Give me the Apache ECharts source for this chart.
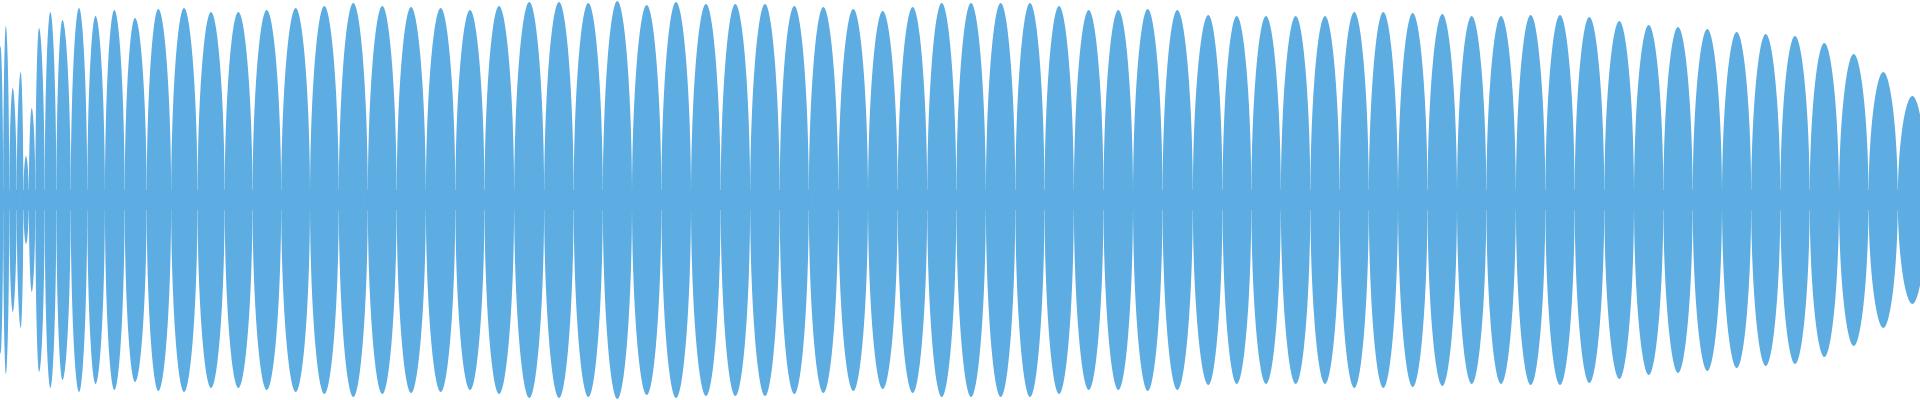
<!DOCTYPE html>
<html>
<head>
<meta charset="utf-8">
<title>waveform</title>
<script src="https://cdn.jsdelivr.net/npm/echarts@6/dist/echarts.min.js"></script>
<style>
  html, body { margin: 0; padding: 0; background: #fff; }
  #chart { width: 1920px; height: 400px; }
</style>
</head>
<body>
<div id="chart"></div>
<script>
  // lobe peak positions (x) and their envelope amplitude
  var lobeCenters = [
    0.5, 5.8, 12.7, 20.7, 26, 31.7, 39, 50.3, 62.4, 79,
    95.5, 114.3, 135, 158.3, 184, 211, 238.3, 266.7, 295.7, 324.3,
    353.3, 382.3, 411, 440.7, 470, 499, 529.3, 559, 588.3, 617.3,
    646.7, 676, 706, 735.3, 765, 794.3, 823.3, 853.3, 882.7, 912.7,
    941.7, 971, 1000.7, 1030, 1059, 1088.7, 1118.3, 1147.7, 1177.3, 1208.3,
    1236.7, 1266, 1295.7, 1325, 1354.3, 1383.3, 1412.7, 1442.3, 1471.7, 1501,
    1530.7, 1560, 1589.3, 1619.3, 1648.7, 1678, 1707.3, 1736.7, 1765.7, 1795,
    1824.3, 1853.7, 1883.3, 1912.3
  ];
  var lobeAmplitudes = [
    0.77, 0.87, 0.56, 0.64, 0.22, 0.46, 0.86, 0.94, 0.90, 0.96,
    0.92, 0.95, 0.91, 0.955, 0.96, 0.94, 0.94, 0.95, 0.96, 0.97,
    0.985, 0.97, 0.965, 0.96, 0.95, 0.97, 0.99, 0.99, 0.985, 0.995,
    0.975, 0.99, 0.98, 0.98, 0.98, 0.97, 0.965, 0.955, 0.945, 0.965,
    0.985, 0.985, 0.985, 0.985, 0.97, 0.95, 0.95, 0.955, 0.95, 0.925,
    0.92, 0.92, 0.92, 0.92, 0.94, 0.94, 0.935, 0.93, 0.92, 0.92,
    0.925, 0.925, 0.915, 0.895, 0.875, 0.865, 0.855, 0.84, 0.83, 0.82,
    0.785, 0.73, 0.64, 0.52
  ];
  // the carrier never drops below this level
  var floorLevel = 0.05;

  var xMin = 0, xMax = 1920;
  var fillColor = '#5dace2';

  // each lobe spans half way to its neighbours
  var lobes = lobeCenters.map(function (c, i) {
    var prev = i > 0 ? lobeCenters[i - 1] : c - (lobeCenters[1] - c);
    var next = i < lobeCenters.length - 1 ? lobeCenters[i + 1] : c + (c - lobeCenters[i - 1]);
    return [c, lobeAmplitudes[i], (prev + c) / 2, (c + next) / 2];
  });

  function renderLobe(params, api) {
    var top = api.coord([api.value(0), api.value(1)]);
    var bot = api.coord([api.value(0), -api.value(1)]);
    var left = api.coord([api.value(2), 0]);
    var right = api.coord([api.value(3), 0]);
    var fl = api.coord([api.value(2), floorLevel])[1];
    var fb = api.coord([api.value(2), -floorLevel])[1];
    var xl = left[0], xr = right[0], xm = top[0], y0 = left[1];
    var yt = top[1], yb = bot[1];
    var k = 0.55, m = 0.54;
    var hT = y0 - yt, hB = yb - y0;
    var d = 'M' + xl + ' ' + y0 +
      ' C' + xl + ' ' + (y0 - k * hT) + ' ' + (xl + m * (xm - xl)) + ' ' + yt + ' ' + xm + ' ' + yt +
      ' C' + (xr - m * (xr - xm)) + ' ' + yt + ' ' + xr + ' ' + (y0 - k * hT) + ' ' + xr + ' ' + y0 +
      ' C' + xr + ' ' + (y0 + k * hB) + ' ' + (xr - m * (xr - xm)) + ' ' + yb + ' ' + xm + ' ' + yb +
      ' C' + (xl + m * (xm - xl)) + ' ' + yb + ' ' + xl + ' ' + (y0 + k * hB) + ' ' + xl + ' ' + y0 + ' Z';
    return {
      type: 'group',
      children: [
        { type: 'path', shape: { pathData: d }, style: { fill: fillColor } },
        { type: 'rect', shape: { x: xl, y: fl, width: xr - xl + 0.5, height: fb - fl }, style: { fill: fillColor } }
      ]
    };
  }

  var chart = echarts.init(document.getElementById('chart'));
  var option = {
    animation: false,
    grid: { left: 0, right: 0, top: 0, bottom: 0 },
    xAxis: { type: 'value', min: xMin, max: xMax, show: false },
    yAxis: { type: 'value', min: -1, max: 1, show: false },
    series: [
      {
        type: 'custom',
        renderItem: renderLobe,
        clip: true,
        encode: { x: [0, 2, 3], y: 1 },
        data: lobes
      }
    ]
  };
  chart.setOption(option);
</script>
</body>
</html>
